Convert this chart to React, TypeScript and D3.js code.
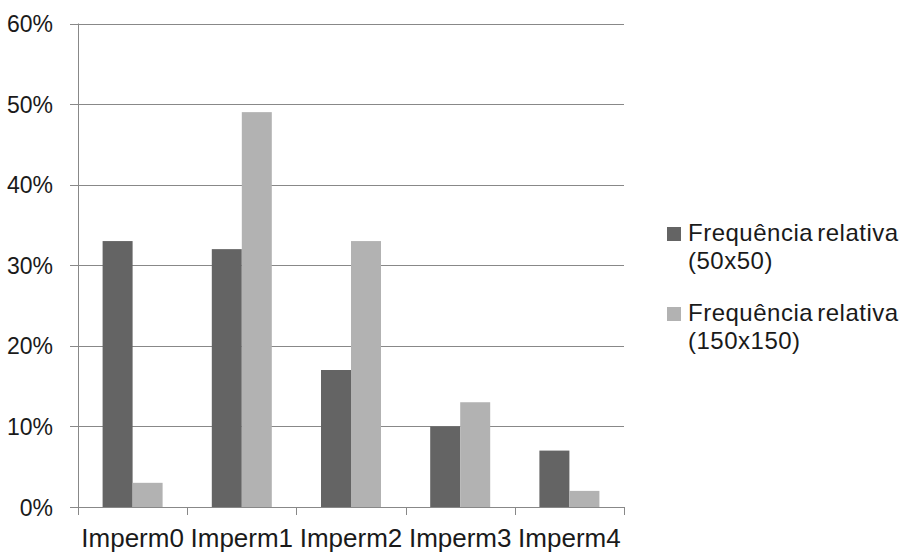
import * as d3 from "d3";

const categories = ["Imperm0", "Imperm1", "Imperm2", "Imperm3", "Imperm4"];
const seriesNames = ["Frequência relativa (50x50)", "Frequência relativa (150x150)"];
const legendLines = [
  ["Frequência relativa", "(50x50)"],
  ["Frequência relativa", "(150x150)"],
];
const values50 = [0.33, 0.32, 0.17, 0.1, 0.07];
const values150 = [0.03, 0.49, 0.33, 0.13, 0.02];
const yTicks = [0, 0.1, 0.2, 0.3, 0.4, 0.5, 0.6];
const colors = ["#646464", "#b2b2b2"];

const font = "'Liberation Sans', Arial, sans-serif";

export default function App() {
  const width = 916;
  const height = 554;
  const plot = { left: 78, right: 624, top: 23.5, bottom: 507 };

  const series = [values50, values150];

  const x0 = d3
    .scaleBand()
    .domain(categories)
    .range([plot.left, plot.right])
    .padding(0);

  const x1 = d3
    .scaleBand()
    .domain(seriesNames)
    .range([0, x0.bandwidth()])
    .paddingInner(0)
    .paddingOuter(0.82);

  const y = d3.scaleLinear().domain([0, 0.6]).range([plot.bottom, plot.top]);

  const axisColor = "#888888";

  return (
    <svg
      width={width}
      height={height}
      style={{ position: "absolute", left: 0, top: 0, background: "#fff" }}
    >
      {/* Gridlines + y tick marks */}
      {yTicks.map((t) => (
        <g key={`g-${t}`}>
          <line
            x1={plot.left - 8}
            x2={plot.right}
            y1={Math.round(y(t)) + 0.5}
            y2={Math.round(y(t)) + 0.5}
            stroke={axisColor}
            strokeWidth={1}
          />
          <text
            x={53}
            y={y(t) + 8.5}
            textAnchor="end"
            fontFamily={font}
            fontSize={23}
            fill="#1a1a1a"
          >
            {d3.format(".0%")(t)}
          </text>
        </g>
      ))}

      {/* Bars */}
      {categories.map((c, i) => (
        <g key={c}>
          {series.map((vals, s) => (
            <rect
              key={s}
              x={(x0(c) || 0) + (x1(seriesNames[s]) || 0)}
              y={y(vals[i])}
              width={x1.bandwidth()}
              height={plot.bottom - y(vals[i])}
              fill={colors[s]}
            />
          ))}
        </g>
      ))}

      {/* Y axis line */}
      <line
        x1={plot.left + 0.5}
        x2={plot.left + 0.5}
        y1={plot.top}
        y2={plot.bottom + 8}
        stroke={axisColor}
      />
      {/* X axis line */}
      <line
        x1={plot.left - 8}
        x2={plot.right}
        y1={Math.round(plot.bottom) + 0.5}
        y2={Math.round(plot.bottom) + 0.5}
        stroke={axisColor}
      />
      {/* X tick marks at category boundaries */}
      {[...categories.map((c) => x0(c) || 0), plot.right].map((xv, i) => (
        <line
          key={`xt-${i}`}
          x1={Math.round(xv) + 0.5}
          x2={Math.round(xv) + 0.5}
          y1={plot.bottom}
          y2={plot.bottom + 8}
          stroke={axisColor}
        />
      ))}

      {/* X labels */}
      {categories.map((c) => (
        <text
          key={`xl-${c}`}
          x={(x0(c) || 0) + x0.bandwidth() / 2}
          y={547}
          textAnchor="middle"
          fontFamily={font}
          fontSize={26}
          fill="#1a1a1a"
        >
          {c}
        </text>
      ))}

      {/* Legend */}
      {legendLines.map((lines, s) => (
        <g key={`lg-${s}`} transform={`translate(667,${227 + s * 80})`}>
          <rect x={0} y={0} width={14} height={14} fill={colors[s]} />
          {lines.map((ln, k) => (
            <text
              key={k}
              x={21}
              y={13.5 + k * 28}
              fontFamily={font}
              fontSize={24}
              letterSpacing={0.5}
              wordSpacing={-3}
              fill="#1a1a1a"
            >
              {ln}
            </text>
          ))}
        </g>
      ))}
    </svg>
  );
}
